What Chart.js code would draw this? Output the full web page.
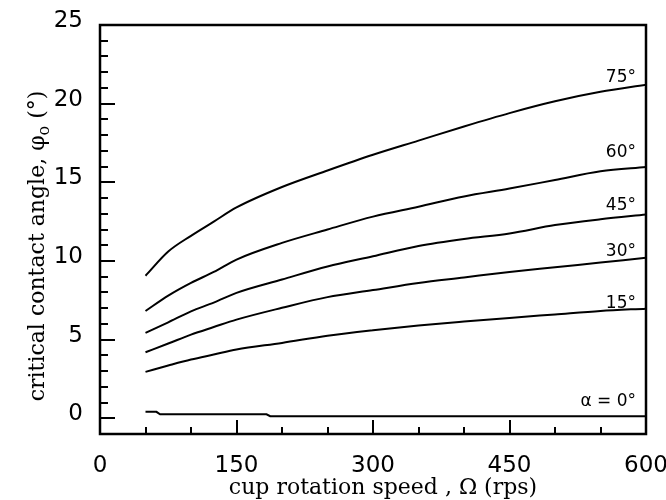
<!DOCTYPE html>
<html><head><meta charset="utf-8">
<script src="https://cdn.jsdelivr.net/npm/chart.js@4.4.0/dist/chart.umd.min.js"></script>
<style>html,body{margin:0;padding:0;background:#fff}#wrap{width:666px;height:500px}</style>
</head><body><div id="wrap"><canvas id="c" width="666" height="500"></canvas></div>
<script>
// ---- data ----
const speeds = [50, 75, 100, 125, 150, 200, 250, 300, 350, 400, 450, 500, 550, 600];
const phi75 = [9.06, 10.6, 11.6, 12.5, 13.4, 14.7, 15.75, 16.75, 17.65, 18.55, 19.4, 20.15, 20.75, 21.2];
const phi60 = [6.82, 7.8, 8.61, 9.3, 10.09, 11.15, 12.0, 12.82, 13.45, 14.1, 14.6, 15.15, 15.7, 15.98];
const phi45 = [5.43, 6.1, 6.8, 7.35, 7.97, 8.82, 9.65, 10.3, 10.95, 11.4, 11.75, 12.28, 12.65, 12.95];
const phi30 = [4.2, 4.75, 5.32, 5.8, 6.27, 7.02, 7.7, 8.15, 8.6, 8.95, 9.3, 9.6, 9.9, 10.2];
const phi15 = [2.95, 3.35, 3.73, 4.05, 4.37, 4.79, 5.25, 5.6, 5.9, 6.15, 6.38, 6.6, 6.82, 6.97];
const speeds0 = [50, 62, 66, 183, 187, 600];
const phi0 = [0.41, 0.41, 0.25, 0.25, 0.13, 0.13];
const curveLabels = ['α = 0°', '15°', '30°', '45°', '60°', '75°'];
const xTicks = [0, 150, 300, 450, 600];
const yTicks = [0, 5, 10, 15, 20, 25];
const xTitle = 'cup rotation speed , Ω (rps)';
const yTitleMain = 'critical contact angle, φ';
const yTitleSub = 'o';
const yTitleEnd = ' (°)';

// ---- styles ----
const labelDy = [-10, -1, -2, -5, -10, -3];
const series = [[speeds0, phi0], [speeds, phi15], [speeds, phi30], [speeds, phi45], [speeds, phi60], [speeds, phi75]];

const datasets = series.map(([xs, ys], i) => ({
  label: curveLabels[i],
  data: xs.map((x, j) => ({x: x, y: ys[j]})),
  borderColor: '#000',
  borderWidth: 2,
  pointRadius: 0,
  fill: false,
  tension: i === 0 ? 0 : 0.35,
  cubicInterpolationMode: i === 0 ? 'default' : 'monotone'
}));

const framePlugin = {
  id: 'frame',
  afterDraw(chart) {
    const ctx = chart.ctx, a = chart.chartArea;
    const xs = chart.scales.x, ys = chart.scales.y;
    ctx.save();
    ctx.strokeStyle = '#000';
    ctx.lineWidth = 2.5;
    ctx.strokeRect(a.left, a.top, a.right - a.left, a.bottom - a.top);
    ctx.lineWidth = 2;
    ctx.beginPath();
    for (let v = 0; v < 25; v++) {
      const y = Math.round(ys.getPixelForValue(v));
      const len = v % 5 === 0 ? 15 : 8;
      ctx.moveTo(a.left, y); ctx.lineTo(a.left + len, y);
    }
    for (let v = 50; v < 600; v += 50) {
      const x = Math.round(xs.getPixelForValue(v));
      const len = v % 150 === 0 ? 14 : 7;
      ctx.moveTo(x, a.bottom); ctx.lineTo(x, a.bottom - len);
    }
    ctx.stroke();

    // curve labels
    ctx.fillStyle = '#000';
    ctx.font = '17px "DejaVu Sans"';
    ctx.textAlign = 'right';
    ctx.textBaseline = 'alphabetic';
    chart.data.datasets.forEach((ds, i) => {
      const meta = chart.getDatasetMeta(i);
      const last = meta.data[meta.data.length - 1];
      ctx.fillText(curveLabels[i], a.right - 10, last.y + labelDy[i]);
    });

    // x title
    ctx.font = '22px "DejaVu Serif"';
    ctx.textAlign = 'center';
    ctx.fillText(xTitle, 383, 494);

    // y title (rotated, with subscript)
    ctx.translate(44, 246);
    ctx.rotate(-Math.PI / 2);
    const fMain = '22px "DejaVu Serif"', fSub = '16px "DejaVu Serif"';
    ctx.font = fMain;
    const w1 = ctx.measureText(yTitleMain).width;
    const w3 = ctx.measureText(yTitleEnd).width;
    ctx.font = fSub;
    const w2 = ctx.measureText(yTitleSub).width;
    const total = w1 + w2 + w3;
    let x0 = -total / 2;
    ctx.textAlign = 'left';
    ctx.font = fMain;
    ctx.fillText(yTitleMain, x0, 0);
    ctx.font = fSub;
    ctx.fillText(yTitleSub, x0 + w1, 5);
    ctx.font = fMain;
    ctx.fillText(yTitleEnd, x0 + w1 + w2, 0);
    ctx.restore();
  }
};

new Chart(document.getElementById('c'), {
  type: 'line',
  data: {datasets},
  options: {
    responsive: false,
    animation: false,
    devicePixelRatio: 1,
    layout: {padding: {top: 25, right: 20, left: 0, bottom: 0}},
    plugins: {legend: {display: false}, tooltip: {enabled: false}},
    scales: {
      x: {
        type: 'linear', min: 0, max: 600,
        afterBuildTicks: s => { s.ticks = xTicks.map(v => ({value: v})); },
        afterFit: s => { s.height = 66; s.paddingLeft = 0; s.paddingRight = 0; },
        grid: {display: false, drawTicks: false},
        border: {display: false},
        ticks: {color: '#000', font: {family: 'DejaVu Sans', size: 23}, padding: 18, maxRotation: 0, autoSkip: false}
      },
      y: {
        type: 'linear', min: -1, max: 25,
        afterBuildTicks: s => { s.ticks = yTicks.map(v => ({value: v})); },
        afterFit: s => { s.width = 100; s.paddingTop = 0; s.paddingBottom = 0; },
        grid: {display: false, drawTicks: false},
        border: {display: false},
        ticks: {color: '#000', font: {family: 'DejaVu Sans', size: 23}, padding: 17, labelOffset: -4}
      }
    }
  },
  plugins: [framePlugin]
});
</script></body></html>
